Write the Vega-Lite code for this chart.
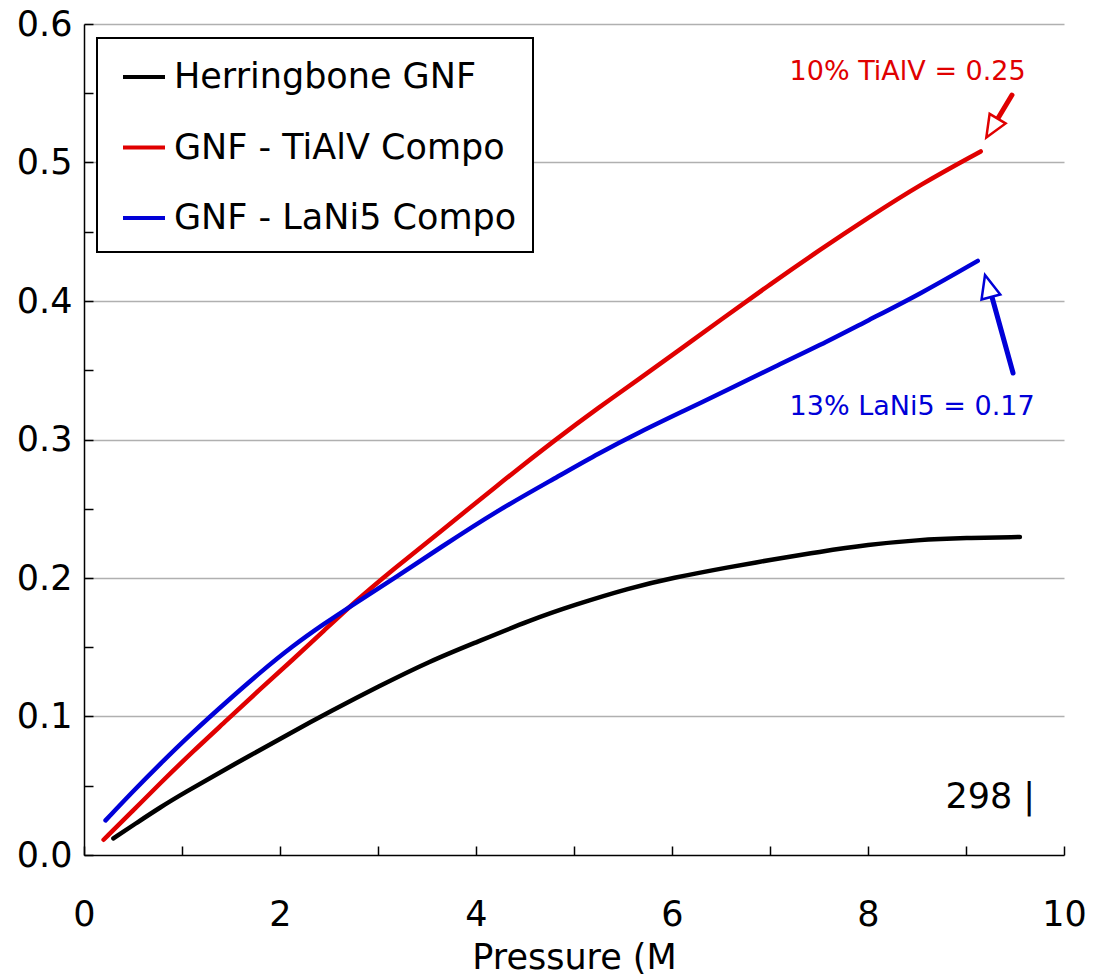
{
  "$schema": "https://vega.github.io/schema/vega-lite/v6.json",
  "autosize": {"type": "none"},
  "padding": {"left": 84, "top": 24, "right": 42, "bottom": 123},
  "width": 980,
  "height": 831,
  "background": "white",
  "config": {
    "view": {"stroke": null},
    "font": "DejaVu Sans",
    "axis": {
      "domainColor": "black",
      "domainWidth": 1.5,
      "tickColor": "black",
      "tickWidth": 1.5,
      "labelColor": "black",
      "titleColor": "black",
      "labelFont": "DejaVu Sans",
      "titleFont": "DejaVu Sans",
      "labelFontSize": 35,
      "titleFontSize": 35,
      "titleFontWeight": "normal",
      "gridColor": "#b0b0b0",
      "gridWidth": 1.5
    }
  },
  "datasets": {
    "curves": [
      {"series": "Herringbone GNF", "p": 0.30, "u": 0.012},
      {"series": "Herringbone GNF", "p": 0.55, "u": 0.0238},
      {"series": "Herringbone GNF", "p": 0.78, "u": 0.0345},
      {"series": "Herringbone GNF", "p": 1.0, "u": 0.044},
      {"series": "Herringbone GNF", "p": 1.52, "u": 0.065},
      {"series": "Herringbone GNF", "p": 2.13, "u": 0.089},
      {"series": "Herringbone GNF", "p": 2.51, "u": 0.1035},
      {"series": "Herringbone GNF", "p": 3.0, "u": 0.1215},
      {"series": "Herringbone GNF", "p": 3.53, "u": 0.14},
      {"series": "Herringbone GNF", "p": 4.0, "u": 0.1535},
      {"series": "Herringbone GNF", "p": 4.55, "u": 0.1695},
      {"series": "Herringbone GNF", "p": 5.0, "u": 0.1805},
      {"series": "Herringbone GNF", "p": 5.57, "u": 0.1928},
      {"series": "Herringbone GNF", "p": 6.0, "u": 0.2},
      {"series": "Herringbone GNF", "p": 6.59, "u": 0.208},
      {"series": "Herringbone GNF", "p": 7.0, "u": 0.213},
      {"series": "Herringbone GNF", "p": 7.51, "u": 0.219},
      {"series": "Herringbone GNF", "p": 8.0, "u": 0.224},
      {"series": "Herringbone GNF", "p": 8.5, "u": 0.2275},
      {"series": "Herringbone GNF", "p": 9.0, "u": 0.229},
      {"series": "Herringbone GNF", "p": 9.55, "u": 0.2296},
      {"series": "GNF - TiAlV Compo", "p": 0.20, "u": 0.011},
      {"series": "GNF - TiAlV Compo", "p": 0.50, "u": 0.032},
      {"series": "GNF - TiAlV Compo", "p": 0.78, "u": 0.052},
      {"series": "GNF - TiAlV Compo", "p": 1.1, "u": 0.074},
      {"series": "GNF - TiAlV Compo", "p": 1.46, "u": 0.0975},
      {"series": "GNF - TiAlV Compo", "p": 1.8, "u": 0.120},
      {"series": "GNF - TiAlV Compo", "p": 2.13, "u": 0.141},
      {"series": "GNF - TiAlV Compo", "p": 2.45, "u": 0.162},
      {"series": "GNF - TiAlV Compo", "p": 2.75, "u": 0.182},
      {"series": "GNF - TiAlV Compo", "p": 3.15, "u": 0.206},
      {"series": "GNF - TiAlV Compo", "p": 3.63, "u": 0.233},
      {"series": "GNF - TiAlV Compo", "p": 4.2, "u": 0.266},
      {"series": "GNF - TiAlV Compo", "p": 4.83, "u": 0.301},
      {"series": "GNF - TiAlV Compo", "p": 5.25, "u": 0.323},
      {"series": "GNF - TiAlV Compo", "p": 5.67, "u": 0.344},
      {"series": "GNF - TiAlV Compo", "p": 6.1, "u": 0.366},
      {"series": "GNF - TiAlV Compo", "p": 6.49, "u": 0.386},
      {"series": "GNF - TiAlV Compo", "p": 7.0, "u": 0.412},
      {"series": "GNF - TiAlV Compo", "p": 7.51, "u": 0.437},
      {"series": "GNF - TiAlV Compo", "p": 8.0, "u": 0.460},
      {"series": "GNF - TiAlV Compo", "p": 8.53, "u": 0.484},
      {"series": "GNF - TiAlV Compo", "p": 9.15, "u": 0.508},
      {"series": "GNF - LaNi5 Compo", "p": 0.22, "u": 0.025},
      {"series": "GNF - LaNi5 Compo", "p": 0.50, "u": 0.046},
      {"series": "GNF - LaNi5 Compo", "p": 0.78, "u": 0.066},
      {"series": "GNF - LaNi5 Compo", "p": 1.1, "u": 0.088},
      {"series": "GNF - LaNi5 Compo", "p": 1.46, "u": 0.111},
      {"series": "GNF - LaNi5 Compo", "p": 1.8, "u": 0.132},
      {"series": "GNF - LaNi5 Compo", "p": 2.13, "u": 0.151},
      {"series": "GNF - LaNi5 Compo", "p": 2.45, "u": 0.167},
      {"series": "GNF - LaNi5 Compo", "p": 2.75, "u": 0.181},
      {"series": "GNF - LaNi5 Compo", "p": 3.16, "u": 0.1995},
      {"series": "GNF - LaNi5 Compo", "p": 3.63, "u": 0.2217},
      {"series": "GNF - LaNi5 Compo", "p": 4.2, "u": 0.248},
      {"series": "GNF - LaNi5 Compo", "p": 4.83, "u": 0.273},
      {"series": "GNF - LaNi5 Compo", "p": 5.25, "u": 0.290},
      {"series": "GNF - LaNi5 Compo", "p": 5.67, "u": 0.3054},
      {"series": "GNF - LaNi5 Compo", "p": 6.1, "u": 0.320},
      {"series": "GNF - LaNi5 Compo", "p": 6.6, "u": 0.337},
      {"series": "GNF - LaNi5 Compo", "p": 7.0, "u": 0.351},
      {"series": "GNF - LaNi5 Compo", "p": 7.51, "u": 0.368},
      {"series": "GNF - LaNi5 Compo", "p": 8.0, "u": 0.386},
      {"series": "GNF - LaNi5 Compo", "p": 8.53, "u": 0.405},
      {"series": "GNF - LaNi5 Compo", "p": 9.12, "u": 0.429}
    ],
    "arrows": [
      {"series": "GNF - TiAlV Compo", "p": 9.469, "u": 0.5487, "p2": 9.316, "u2": 0.5307},
      {"series": "GNF - LaNi5 Compo", "p": 9.48, "u": 0.348, "p2": 9.265, "u2": 0.4029}
    ],
    "heads": [
      {"series": "GNF - TiAlV Compo", "p": 9.265, "u": 0.5249},
      {"series": "GNF - LaNi5 Compo", "p": 9.224, "u": 0.4108}
    ],
    "notes": [
      {"series": "GNF - TiAlV Compo", "p": 7.2, "u": 0.565, "label": "10% TiAlV = 0.25"},
      {"series": "GNF - LaNi5 Compo", "p": 7.2, "u": 0.3235, "label": "13% LaNi5 = 0.17"}
    ],
    "temp": [
      {"p": 8.79, "u": 0.042, "label": "298 |"}
    ]
  },
  "encoding": {
    "x": {
      "field": "p", "type": "quantitative",
      "scale": {"domain": [0, 10], "nice": false, "zero": false},
      "axis": {
        "title": "Pressure (M",
        "values": [0, 1, 2, 3, 4, 5, 6, 7, 8, 9, 10],
        "labelExpr": "datum.value % 2 == 0 ? datum.label : ''",
        "tickSize": -9,
        "labelPadding": 51,
        "titlePadding": 8,
        "grid": false,
        "labelFlush": false,
        "labelOverlap": false
      }
    },
    "y": {
      "field": "u", "type": "quantitative",
      "scale": {"domain": [0, 0.6], "nice": false, "zero": true},
      "axis": {
        "title": null,
        "values": [0, 0.05, 0.1, 0.15, 0.2, 0.25, 0.3, 0.35, 0.4, 0.45, 0.5, 0.55, 0.6],
        "labelExpr": "round(datum.value * 20) % 2 == 0 ? format(datum.value, '.1f') : ''",
        "tickSize": -9,
        "labelPadding": 21,
        "grid": true,
        "gridOpacity": {"condition": {"test": "round(datum.value * 20) % 2 == 1 || datum.value == 0", "value": 0}, "value": 1},
        "labelFlush": false,
        "labelOverlap": false
      }
    }
  },
  "layer": [
    {
      "data": {"name": "curves"},
      "mark": {"type": "line", "strokeWidth": 4.5, "interpolate": "basis", "strokeCap": "round"},
      "encoding": {
        "color": {
          "field": "series", "type": "nominal",
          "scale": {
            "domain": ["Herringbone GNF", "GNF - TiAlV Compo", "GNF - LaNi5 Compo"],
            "range": ["#000000", "#e00000", "#0000d8"]
          },
          "legend": {
            "title": null,
            "orient": "none",
            "legendX": 13,
            "legendY": 14,
            "padding": 16,
            "strokeColor": "black",
            "fillColor": "white",
            "cornerRadius": 0,
            "symbolType": "stroke",
            "symbolSize": 1764,
            "symbolStrokeWidth": 4,
            "symbolOffset": 8,
            "labelOffset": 7,
            "labelFontSize": 35,
            "labelFont": "DejaVu Sans",
            "labelColor": "black",
            "labelLimit": 600,
            "rowPadding": 29.5,
            "encode": {"legend": {"update": {"strokeWidth": {"value": 2}}}}
          }
        }
      }
    },
    {
      "data": {"name": "arrows"},
      "mark": {"type": "rule", "strokeWidth": 5, "strokeCap": "round"},
      "encoding": {
        "x2": {"field": "p2"},
        "y2": {"field": "u2"},
        "color": {"field": "series", "type": "nominal", "legend": null}
      }
    },
    {
      "data": {"name": "heads"},
      "transform": [{"filter": "datum.series == 'GNF - TiAlV Compo'"}],
      "mark": {"type": "point", "shape": "M0,-1L0.85,1L-0.85,1Z", "size": 480, "angle": 211, "filled": true, "fill": "white", "stroke": "#e00000", "strokeWidth": 2.5, "opacity": 1}
    },
    {
      "data": {"name": "heads"},
      "transform": [{"filter": "datum.series == 'GNF - LaNi5 Compo'"}],
      "mark": {"type": "point", "shape": "M0,-1L0.85,1L-0.85,1Z", "size": 520, "angle": 345, "filled": true, "fill": "white", "stroke": "#0000d8", "strokeWidth": 2.5, "opacity": 1}
    },
    {
      "data": {"name": "notes"},
      "mark": {"type": "text", "align": "left", "baseline": "middle", "fontSize": 27, "font": "DejaVu Sans"},
      "encoding": {
        "text": {"field": "label"},
        "color": {"field": "series", "type": "nominal", "legend": null}
      }
    },
    {
      "data": {"name": "temp"},
      "mark": {"type": "text", "align": "left", "baseline": "middle", "fontSize": 35, "font": "DejaVu Sans", "color": "black"},
      "encoding": {
        "text": {"field": "label"}
      }
    }
  ]
}
